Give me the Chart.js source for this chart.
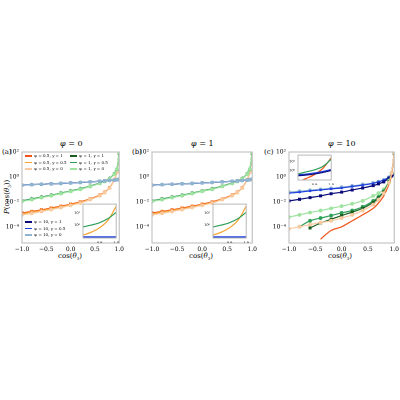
<!DOCTYPE html>
<html>
<head>
<script src="https://cdn.jsdelivr.net/npm/chart.js@4"></script>
<style>
body { margin: 0; background: #fff; }
#wrap { position: relative; width: 400px; height: 400px; font-family: "DejaVu Serif", serif; overflow: hidden; }
canvas { position: absolute; }
.t { position: absolute; font-size: 7px; color: #000; white-space: nowrap; line-height: 8px; }
.lg { position: absolute; font-size: 4px; white-space: nowrap; line-height: 6.5px; }
.sw { display: inline-block; width: 7px; height: 1.2px; vertical-align: middle; margin-right: 2px; }
</style>
</head>
<body>
<div id="wrap">
  <div class="t" style="left:2px;top:148px">(a)</div>
  <div class="t" style="left:132px;top:148px">(b)</div>
  <div class="t" style="left:264px;top:148px">(c)</div>
  <div class="t" style="left:60px;top:140px;font-size:8px"><i>φ</i> = 0</div>
  <div class="t" style="left:191px;top:140px;font-size:8px"><i>φ</i> = 1</div>
  <div class="t" style="left:328px;top:140px;font-size:8px"><i>φ</i> = 10</div>
  <div class="t" style="left:58px;top:252px">cos(<i>θ</i><sub style="font-size:4px">3</sub>)</div>
  <div class="t" style="left:189px;top:252px">cos(<i>θ</i><sub style="font-size:4px">3</sub>)</div>
  <div class="t" style="left:328px;top:252px">cos(<i>θ</i><sub style="font-size:4px">3</sub>)</div>
  <div class="t" style="left:3px;top:214px;transform-origin:0 0;transform:rotate(-90deg)"><i>P</i>(cos(<i>θ</i><sub style="font-size:4px">3</sub>))</div>
</div>
<script>
const X = [-1, -0.8, -0.6, -0.4, -0.2, 0, 0.2, 0.4, 0.6, 0.7, 0.8, 0.9, 0.95, 1.0];
const xTicks = [-1, -0.5, 0, 0.5, 1];
const yTicks = [1e-4, 1e-2, 1, 100];
const yLabels = {"0.0001": "10⁻⁴", "0.01": "10⁻²", "1": "10⁰", "10": "10¹", "100": "10²"};

// panel a (phi = 0) and b (phi = 1)
const blueA   = [0.22, 0.24, 0.26, 0.28, 0.3, 0.33, 0.36, 0.4, 0.45, 0.48, 0.52, 0.56, 0.6, 0.65];
const greenA1 = [0.012, 0.017, 0.024, 0.034, 0.05, 0.075, 0.11, 0.18, 0.32, 0.45, 0.75, 1.8, 4, 80];
const greenA0 = [0.011, 0.015, 0.022, 0.031, 0.046, 0.07, 0.1, 0.17, 0.3, 0.43, 0.7, 1.7, 4.2, 90];
const orngA1  = [0.0013, 0.0017, 0.0023, 0.0032, 0.0045, 0.0065, 0.01, 0.017, 0.035, 0.06, 0.14, 0.6, 2.5, 120];
const orngA5  = [0.0011, 0.0015, 0.002, 0.0028, 0.004, 0.0058, 0.009, 0.016, 0.033, 0.057, 0.13, 0.6, 2.6, 120];
const orngA0  = [0.0009, 0.0012, 0.0017, 0.0024, 0.0035, 0.0052, 0.008, 0.015, 0.031, 0.055, 0.13, 0.6, 2.7, 120];

// panel c (phi = 10)
const navyC   = [0.012, 0.016, 0.022, 0.03, 0.045, 0.06, 0.09, 0.13, 0.2, 0.28, 0.4, 0.8, 1.2, 1.6];
const blueC   = [0.05, 0.06, 0.075, 0.09, 0.11, 0.13, 0.17, 0.22, 0.3, 0.4, 0.55, 0.9, 1.2, 1.5];
const lblueC  = [0.06, 0.07, 0.085, 0.1, 0.12, 0.15, 0.19, 0.25, 0.33, 0.42, 0.58, 0.95, 1.25, 1.5];
const lgreenC = [0.0006, 0.0009, 0.0014, 0.002, 0.003, 0.0045, 0.007, 0.012, 0.03, 0.05, 0.1, 0.5, 2, 80];
const mgreenC = [null, 0.0001, 0.0003, 0.0005, 0.0008, 0.0013, 0.002, 0.004, 0.012, 0.025, 0.07, 0.4, 2, 80];
const dgreenC = [null, null, 0.00008, 0.0002, 0.0004, 0.0008, 0.0015, 0.003, 0.009, 0.02, 0.06, 0.4, 2, 80];
const orngC1  = [null, null, null, 0.00001, 0.00005, 0.0001, 0.0003, 0.0009, 0.003, 0.008, 0.03, 0.25, 1.5, 100];
const orngC0  = [0.00007, 0.0001, 0.00015, 0.00022, 0.0003, 0.0005, 0.0009, 0.002, 0.006, 0.015, 0.05, 0.35, 2, 90];

const C = {
  o1: "#f0561a", o5: "#f7a22e", o0: "#f9caa0",
  g1: "#1a5e1f", g5: "#2ea05a", g0: "#9ee3a0",
  b1: "#0a0a7a", b5: "#1f3fe0", b0: "#8fb4cf"
};

const boxPlugin = {
  id: "box",
  afterDraw(chart) {
    const a = chart.chartArea, ctx = chart.ctx;
    ctx.save();
    ctx.strokeStyle = "#b8b8b8";
    ctx.lineWidth = 1;
    ctx.strokeRect(a.left, a.top, a.right - a.left, a.bottom - a.top);
    ctx.restore();
  }
};

function ds(vals, color, marker, xs) {
  xs = xs || X;
  return {
    data: xs.map((x, i) => ({x: x, y: vals[i]})),
    borderColor: color,
    backgroundColor: color,
    borderWidth: 1.2,
    pointRadius: marker ? 1.3 : 0,
    pointStyle: marker || "circle",
    tension: 0.35,
    spanGaps: false
  };
}

function panel(id, left, top, w, h, sets, opts) {
  opts = opts || {};
  const cv = document.createElement("canvas");
  cv.id = id;
  cv.style.left = left + "px";
  cv.style.top = top + "px";
  cv.width = w; cv.height = h;
  document.getElementById("wrap").appendChild(cv);
  const font = {family: "DejaVu Serif", size: opts.fs || 6};
  return new Chart(cv.getContext("2d"), {
    type: "line",
    data: {datasets: sets},
    options: {
      responsive: false,
      animation: false,
      devicePixelRatio: 2,
      layout: {padding: opts.pad || {top: 0, right: 3, left: 0, bottom: 0}},
      plugins: {legend: {display: false}, tooltip: {enabled: false}},
      scales: {
        x: {
          type: "linear", min: opts.xmin != null ? opts.xmin : -1, max: 1,
          grid: {display: false, drawTicks: true, tickLength: 2, tickColor: "#555"},
          border: {display: false},
          afterBuildTicks: s => { s.ticks = (opts.xt || xTicks).map(v => ({value: v})); },
          afterFit: s => { s.height = opts.xh != null ? opts.xh : 17; },
          ticks: {font: font, color: "#000", padding: 1, maxRotation: 0,
                  callback: v => v.toFixed(1).replace("-", "−")}
        },
        y: {
          type: "logarithmic", min: opts.ymin || 5e-6, max: opts.ymax || 100,
          grid: {display: false, drawTicks: true, tickLength: 2, tickColor: "#555"},
          border: {display: false},
          afterBuildTicks: s => { s.ticks = (opts.yt || yTicks).map(v => ({value: v})); },
          afterFit: s => { s.width = opts.yw != null ? opts.yw : 22; },
          ticks: {font: font, color: "#000", padding: 1,
                  callback: v => yLabels[String(v)] || ""}
        }
      }
    },
    plugins: [boxPlugin]
  });
}

function abSets() {
  return [
    ds(blueA, C.b0, "circle"), ds(blueA, C.b5, "crossRot"), ds(blueA, C.b1, "rect"),
    ds(greenA0, C.g0, "circle"), ds(greenA1, C.g5, "triangle"), ds(greenA1, C.g1, "rect"),
    ds(orngA0, C.o0, "circle"), ds(orngA5, C.o5, "triangle"), ds(orngA1, C.o1, "rect")
  ];
}

panel("pa", 0, 140, 125, 120, abSets(), {pad: {top: 12, right: 3}});
panel("pb", 130, 140, 128, 120, abSets(), {pad: {top: 12, right: 3}});
panel("pc", 267, 140, 133, 120, [
  ds(orngC0, C.o0, "circle"), ds(orngC1, C.o1, null),
  ds(dgreenC, C.g1, "rect"), ds(mgreenC, C.g5, "circle"), ds(lgreenC, C.g0, "circle"),
  ds(navyC, C.b1, "rect"), ds(blueC, C.b5, "crossRot"), ds(lblueC, C.b0, "circle")
], {pad: {top: 12, right: 3}});

// insets
const XI = [0.8, 0.85, 0.9, 0.95, 1.0];
const inGreen = [0.7, 1.0, 1.6, 3.5, 12];
const inOrng  = [0.14, 0.25, 0.6, 2.5, 40];
const inBlue  = [0.1, 0.1, 0.1, 0.1, 0.1];
const inOpts = {pad: {top: 1, right: 1}, xmin: 0.8, ymin: 0.08, ymax: 60,
  xt: [0.9, 1.0], yt: [1, 10], xh: 5, yw: 9, fs: 3.5};
const inSets = () => [ds(inBlue, C.b5, null, XI), ds(inGreen, C.g5, null, XI), ds(inOrng, C.o5, null, XI)];
panel("ia", 74, 201, 46, 42, inSets(), inOpts);
panel("ib", 204, 201, 46, 42, inSets(), inOpts);
const inCG = [0.4, 0.7, 1.2, 3, 20];
const inCO = [0.05, 0.12, 0.35, 1.8, 30];
const inCB = [0.25, 0.3, 0.4, 0.6, 1.0];
const inCB5 = [0.32, 0.39, 0.52, 0.78, 1.3];
panel("ic", 289, 152, 46, 33, [
  ds(inCB, C.b1, null, XI), ds(inCB5, C.b5, null, XI),
  ds(inCG, C.g5, null, XI), ds(inCO, C.o1, null, XI)
], inOpts);

// legends
const wrap = document.getElementById("wrap");
function legend(left, top, items) {
  const d = document.createElement("div");
  d.className = "lg";
  d.style.left = left + "px"; d.style.top = top + "px";
  d.innerHTML = items.map(it => '<div><span class="sw" style="background:' + it[1] + '"></span><i>ψ</i> = ' + it[0] + '</div>').join("");
  wrap.appendChild(d);
}
legend(25, 153, [["0.5, <i>γ</i> = 1", C.o1], ["0.5, <i>γ</i> = 0.5", C.o5], ["0.5, <i>γ</i> = 0", C.o0]]);
legend(70, 153, [["1, <i>γ</i> = 1", C.g1], ["1, <i>γ</i> = 0.5", C.g5], ["1, <i>γ</i> = 0", C.g0]]);
legend(25, 219, [["10, <i>γ</i> = 1", C.b1], ["10, <i>γ</i> = 0.5", C.b5], ["10, <i>γ</i> = 0", C.b0]]);
</script>
</body>
</html>
